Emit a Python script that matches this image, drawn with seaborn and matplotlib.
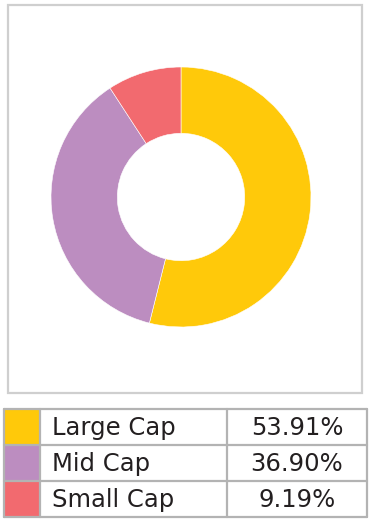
import matplotlib
matplotlib.use("Agg")
import matplotlib.pyplot as plt
import seaborn as sns
from matplotlib.patches import Rectangle

# data
labels = ["Large Cap", "Mid Cap", "Small Cap"]
shares = [53.91, 36.90, 9.19]
value_text = ["53.91%", "36.90%", "9.19%"]
colors = ["#FFC90A", "#BC8DC0", "#F26A6F"]

sns.set_theme(style="white")
plt.rcParams['font.family'] = ['DejaVu Sans']

W, H = 372, 523
fig = plt.figure(figsize=(W / 100, H / 100), dpi=100)
fig.patch.set_facecolor("white")

def fbox(x0, y0, x1, y1):
    # pixel box (top-left origin) -> figure fraction
    return [x0 / W, (H - y1) / H, (x1 - x0) / W, (y1 - y0) / H]

# outer frame around the donut
fig.patches.append(Rectangle((8 / W, (H - 393) / H), 354 / W, 388 / H,
                             transform=fig.transFigure, fill=False,
                             edgecolor="#cfcfcf", linewidth=1.6))

# donut
cx, cy, R = 181, 197, 130
ax = fig.add_axes(fbox(cx - 135, cy - 135, cx + 135, cy + 135))
ax.pie(shares, colors=colors, startangle=90, counterclock=False, radius=1,
       wedgeprops=dict(width=0.51, edgecolor="white", linewidth=0.4))
lim = 135 / R
ax.set_xlim(-lim, lim)
ax.set_ylim(-lim, lim)
ax.set_aspect("equal")
ax.axis("off")

# table
tx = fig.add_axes(fbox(4, 409, 367, 517))
tx.set_xlim(0, 363)
tx.set_ylim(108, 0)
tx.axis("off")
cols = [0, 36, 223, 363]
rh = 36
grid = "#b3b3b3"
for i, (lab, val, c) in enumerate(zip(labels, value_text, colors)):
    y0 = i * rh
    tx.add_patch(Rectangle((0, y0), cols[1], rh, facecolor=c, edgecolor="none"))
    tx.text(48, y0 + rh / 2 + 1, lab, ha="left", va="center", fontsize=17.5, color="#231f20")
    tx.text((cols[2] + cols[3]) / 2, y0 + rh / 2 + 1, val, ha="center", va="center",
            fontsize=17.5, color="#231f20")
for i in range(4):
    tx.plot([0, 363], [i * rh, i * rh], color=grid, lw=1.6, clip_on=False)
for x in cols:
    tx.plot([x, x], [0, 108], color=grid, lw=1.6, clip_on=False)

fig.savefig("out.png", dpi=100, facecolor="white")
